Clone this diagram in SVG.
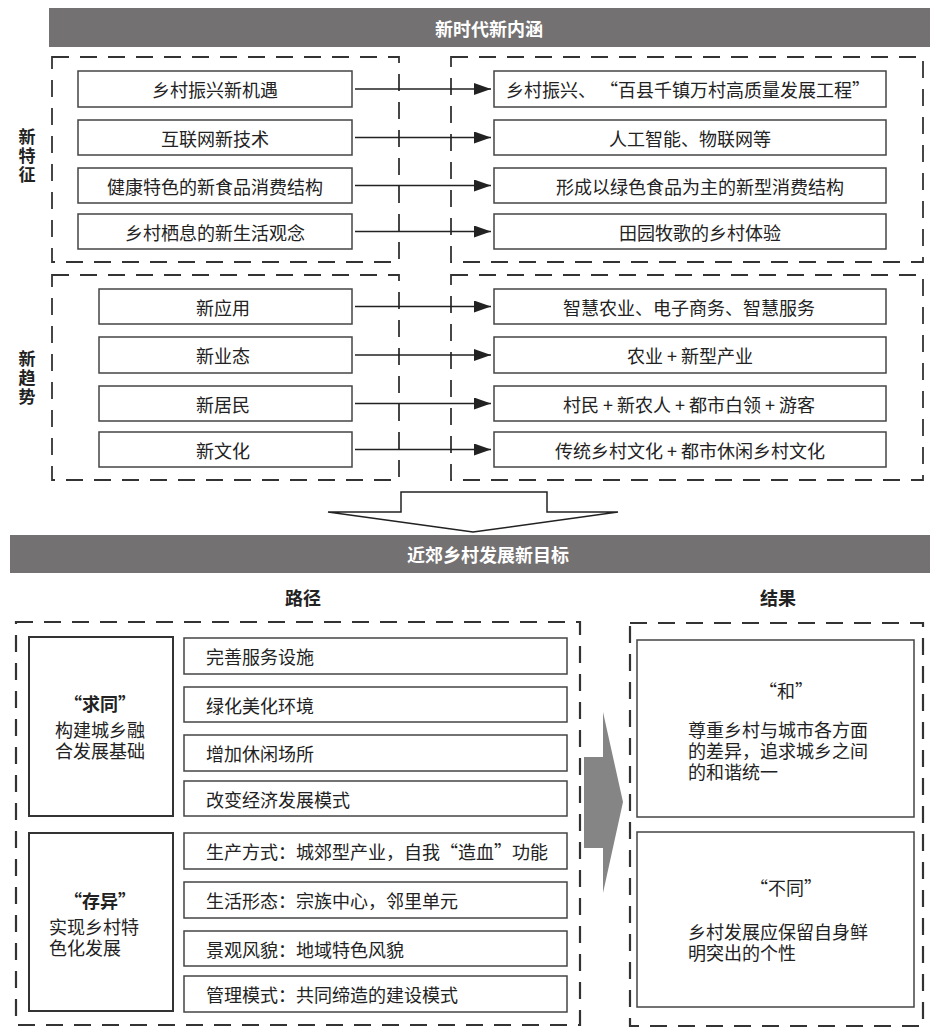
<svg xmlns="http://www.w3.org/2000/svg" width="942" height="1036" viewBox="0 0 942 1036">
<defs>
<style>
text{font-family:"Noto Sans CJK SC","Noto Sans",sans-serif;font-size:18px;fill:#222;dominant-baseline:central}
.ml{font-family:"Liberation Sans","Noto Sans CJK SC",sans-serif}
.hdr{fill:#747172}
.ht{fill:#fff;font-weight:bold;text-anchor:middle}
.bold{font-weight:bold}
.mid{text-anchor:middle}
.vl{font-weight:bold;text-anchor:middle;font-size:17px;writing-mode:vertical-rl;letter-spacing:2px}
.dash{fill:none;stroke:#333;stroke-width:1.8;stroke-dasharray:17 11}
.dash2{fill:none;stroke:#333;stroke-width:2.2;stroke-dasharray:17 11}
.box{fill:#fff;stroke:#444;stroke-width:1.5}
.box2{fill:#fff;stroke:#333;stroke-width:2}
.conn{stroke:#222;stroke-width:1.3;fill:none;marker-end:url(#ah)}
</style>
<marker id="ah" viewBox="0 0 17 12" refX="17" refY="6" markerWidth="17" markerHeight="12" markerUnits="userSpaceOnUse" orient="auto">
<path d="M0,0 L17,6 L0,12 z" fill="#222"/>
</marker>
</defs>

<g id="header1">
<rect class="hdr" x="49" y="8" width="881" height="39"/>
<text class="ht" x="489" y="28">新时代新内涵</text>
</g>

<g id="frames">
<rect class="dash" x="52" y="57" width="347" height="205"/>
<rect class="dash" x="451" y="57" width="472" height="205"/>
<rect class="dash" x="52" y="275" width="347" height="205"/>
<rect class="dash" x="451" y="275" width="472" height="205"/>
<rect class="dash2" x="16" y="622" width="564" height="403"/>
<rect class="dash2" x="630" y="623" width="293" height="403"/>
</g>

<g id="label-tezheng">
<text class="vl" x="27" y="157">新特征</text>
</g>
<g id="label-qushi">
<text class="vl" x="27" y="379">新趋势</text>
</g>

<g id="connectors">
<line class="conn" x1="355" y1="89" x2="491" y2="89"/>
<line class="conn" x1="355" y1="137.5" x2="491" y2="137.5"/>
<line class="conn" x1="355" y1="185.5" x2="491" y2="185.5"/>
<line class="conn" x1="355" y1="231.5" x2="491" y2="231.5"/>
<line class="conn" x1="355" y1="306.5" x2="491" y2="306.5"/>
<line class="conn" x1="355" y1="355" x2="491" y2="355"/>
<line class="conn" x1="355" y1="403.5" x2="491" y2="403.5"/>
<line class="conn" x1="355" y1="449.5" x2="491" y2="449.5"/>
</g>

<g id="n-l1"><rect class="box" x="78" y="71" width="274" height="36"/><text class="mid" x="215" y="89">乡村振兴新机遇</text></g>
<g id="n-l2"><rect class="box" x="78" y="120" width="274" height="35"/><text class="mid" x="215" y="137.5">互联网新技术</text></g>
<g id="n-l3"><rect class="box" x="78" y="168" width="274" height="35"/><text class="mid" x="215" y="185.5">健康特色的新食品消费结构</text></g>
<g id="n-l4"><rect class="box" x="78" y="214" width="274" height="35"/><text class="mid" x="215" y="231.5">乡村栖息的新生活观念</text></g>

<g id="n-r1"><rect class="box" x="494" y="71" width="392" height="36"/><text class="mid" x="688" y="89">乡村振兴、 “百县千镇万村高质量发展工程”</text></g>
<g id="n-r2"><rect class="box" x="494" y="120" width="392" height="35"/><text class="mid" x="690" y="137.5">人工智能、物联网等</text></g>
<g id="n-r3"><rect class="box" x="494" y="168" width="392" height="35"/><text class="mid" x="700" y="185.5">形成以绿色食品为主的新型消费结构</text></g>
<g id="n-r4"><rect class="box" x="494" y="214" width="392" height="35"/><text class="mid" x="700" y="231.5">田园牧歌的乡村体验</text></g>

<g id="n-l5"><rect class="box" x="99" y="289" width="253" height="35"/><text class="mid" x="223" y="306.5">新应用</text></g>
<g id="n-l6"><rect class="box" x="99" y="337" width="253" height="36"/><text class="mid" x="223" y="355">新业态</text></g>
<g id="n-l7"><rect class="box" x="99" y="386" width="253" height="35"/><text class="mid" x="223" y="403.5">新居民</text></g>
<g id="n-l8"><rect class="box" x="99" y="432" width="253" height="35"/><text class="mid" x="223" y="449.5">新文化</text></g>

<g id="n-r5"><rect class="box" x="494" y="289" width="392" height="35"/><text class="mid" x="689" y="306.5">智慧农业、电子商务、智慧服务</text></g>
<g id="n-r6"><rect class="box" x="494" y="337" width="392" height="36"/><text class="mid" x="690" y="355">农业 + 新型产业</text></g>
<g id="n-r7"><rect class="box" x="494" y="386" width="392" height="35"/><text class="mid" x="689" y="403.5">村民 + 新农人 + 都市白领 + 游客</text></g>
<g id="n-r8"><rect class="box" x="494" y="432" width="392" height="35"/><text class="mid" x="690" y="449.5">传统乡村文化 + 都市休闲乡村文化</text></g>

<g id="down-arrow">
<polygon points="401,492 547,492 547,512 618,512 473,532 328,512 401,512" fill="#fff" stroke="#222" stroke-width="1.5" stroke-linejoin="miter"/>
</g>

<g id="header2">
<rect class="hdr" x="10" y="535" width="920" height="38"/>
<text class="ht" x="488" y="554">近郊乡村发展新目标</text>
</g>

<g id="col-labels">
<text class="bold mid" x="303" y="597">路径</text>
<text class="bold mid" x="778" y="597">结果</text>
</g>

<g id="n-qiutong">
<rect class="box2" x="29" y="637" width="144" height="179"/>
<text class="bold mid" x="100" y="703">“求同”</text>
<text class="ml" x="55" y="731"><tspan x="55">构建城乡融</tspan><tspan x="55" dy="21">合发展基础</tspan></text>
</g>
<g id="n-cunyi">
<rect class="box2" x="29" y="833" width="144" height="178"/>
<text class="bold mid" x="100" y="900">“存异”</text>
<text class="ml" x="49" y="928"><tspan x="49">实现乡村特</tspan><tspan x="49" dy="21">色化发展</tspan></text>
</g>

<g id="n-p1"><rect class="box" x="184" y="638" width="383" height="36"/><text x="206" y="656">完善服务设施</text></g>
<g id="n-p2"><rect class="box" x="184" y="687" width="383" height="35"/><text x="206" y="704.5">绿化美化环境</text></g>
<g id="n-p3"><rect class="box" x="184" y="735" width="383" height="36"/><text x="206" y="753">增加休闲场所</text></g>
<g id="n-p4"><rect class="box" x="184" y="781" width="383" height="35"/><text x="206" y="798.5">改变经济发展模式</text></g>
<g id="n-p5"><rect class="box" x="184" y="833" width="383" height="36"/><text x="206" y="851">生产方式：城郊型产业，自我“造血”功能</text></g>
<g id="n-p6"><rect class="box" x="184" y="882" width="383" height="36"/><text x="206" y="900">生活形态：宗族中心，邻里单元</text></g>
<g id="n-p7"><rect class="box" x="184" y="931" width="383" height="35"/><text x="206" y="948.5">景观风貌：地域特色风貌</text></g>
<g id="n-p8"><rect class="box" x="184" y="976" width="383" height="36"/><text x="206" y="994">管理模式：共同缔造的建设模式</text></g>

<g id="right-arrow">
<polygon points="584,757 603,757 603,712 623,802 603,893 603,848 584,848" fill="#858585"/>
</g>

<g id="n-he">
<rect class="box" x="637" y="640" width="277" height="177"/>
<text class="mid" x="786" y="690">“和”</text>
<text class="ml" x="688" y="731"><tspan x="688">尊重乡村与城市各方面</tspan><tspan x="688" dy="21">的差异，追求城乡之间</tspan><tspan x="688" dy="21">的和谐统一</tspan></text>
</g>
<g id="n-butong">
<rect class="box" x="637" y="832" width="277" height="175"/>
<text class="mid" x="786" y="887">“不同”</text>
<text class="ml" x="688" y="933"><tspan x="688">乡村发展应保留自身鲜</tspan><tspan x="688" dy="21">明突出的个性</tspan></text>
</g>
</svg>
